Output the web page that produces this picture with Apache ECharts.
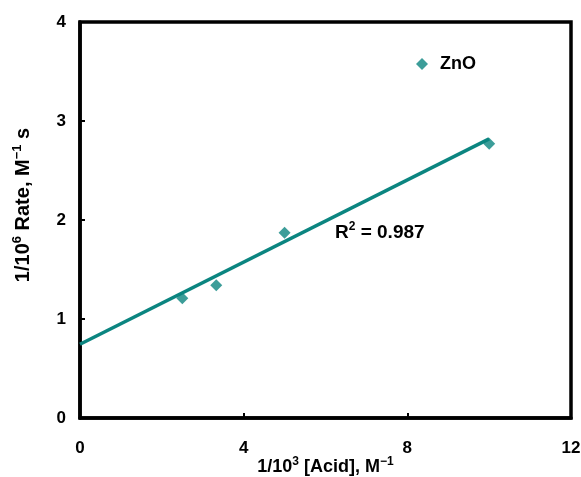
<!DOCTYPE html>
<html>
<head>
<meta charset="utf-8">
<script src="https://cdn.jsdelivr.net/npm/echarts@6/dist/echarts.min.js"></script>
<style>html,body{margin:0;padding:0;background:#fff;}#c{width:581px;height:477px;}</style>
</head>
<body>
<div id="c"></div>
<script>
const seriesName = 'ZnO';
const acidInv = [2.5, 3.33, 5, 10];
const rateInv = [1.21, 1.34, 1.87, 2.77];
const trendX = [0, 10];
const trendY = [0.745, 2.82];
const xTicks = [0, 4, 8, 12];
const yTicks = [0, 1, 2, 3, 4];
const r2Text = '0.987';

const teal = '#0b8580';
const font = 'Arial, "Liberation Sans", sans-serif';

const chart = echarts.init(document.getElementById('c'), null, {renderer: 'canvas'});
const nStyle = {fontSize: 18, fontWeight: 'bold', fontFamily: font, color: '#000', lineHeight: 22};
const supStyle = {fontSize: 12, fontWeight: 'bold', fontFamily: font, color: '#000', verticalAlign: 'top', lineHeight: 12};
const nStyleY = {fontSize: 20, fontWeight: 'bold', fontFamily: font, color: '#000', lineHeight: 24};
const supStyleY = {fontSize: 13, fontWeight: 'bold', fontFamily: font, color: '#000', verticalAlign: 'top', lineHeight: 13};
chart.setOption({
  animation: false,
  backgroundColor: '#fff',
  grid: {left: 80, right: 10, top: 22, bottom: 59, show: true, borderColor: '#000', borderWidth: 3.5, outerBoundsMode: 'none'},
  legend: {
    data: [seriesName], left: 411, top: 50, icon: 'diamond', itemWidth: 12, itemHeight: 12,
    textStyle: {fontSize: 18, fontWeight: 'bold', fontFamily: font, color: '#000', padding: [0, 0, 0, 7]}
  },
  xAxis: {
    type: 'value', min: xTicks[0], max: xTicks[xTicks.length - 1], interval: 4,
    axisLine: {lineStyle: {color: '#000', width: 3.5}},
    axisTick: {inside: true, length: 5, lineStyle: {color: '#000', width: 2}},
    axisLabel: {fontSize: 17, fontWeight: 'bold', fontFamily: font, color: '#000', margin: 22},
    splitLine: {show: false},
    name: '{n|1/10}{s|3}{n| [Acid], M}{s|−1}',
    nameLocation: 'middle', nameGap: 38, nameMoveOverlap: false,
    nameTextStyle: {rich: {n: nStyle, s: supStyle}}
  },
  yAxis: {
    type: 'value', min: yTicks[0], max: yTicks[yTicks.length - 1], interval: 1,
    axisLine: {lineStyle: {color: '#000', width: 3.5}},
    axisTick: {inside: true, length: 5, lineStyle: {color: '#000', width: 2}},
    axisLabel: {fontSize: 17, fontWeight: 'bold', fontFamily: font, color: '#000', margin: 14},
    splitLine: {show: false},
    name: '{n|1/10}{s|6}{n| Rate, M}{s|−1}{n| s}',
    nameLocation: 'middle', nameGap: 45, nameRotate: 90, nameMoveOverlap: false,
    nameTextStyle: {padding: [0, 0, 0, 30], rich: {n: nStyleY, s: supStyleY}}
  },
  series: [
    {
      name: 'trend', type: 'line', data: trendX.map((x, i) => [x, trendY[i]]),
      showSymbol: false, symbol: 'none', lineStyle: {color: teal, width: 3.5}, z: 2, silent: true
    },
    {
      name: seriesName, type: 'scatter', data: acidInv.map((x, i) => [x, rateInv[i]]),
      symbol: 'diamond', symbolSize: 12, itemStyle: {color: teal}, z: 3
    }
  ],
  graphic: [{
    type: 'text', left: 335, top: 221,
    style: {
      text: '{n|R}{s|2}{n| = ' + r2Text + '}',
      rich: {
        n: {fontSize: 19, fontWeight: 'bold', fontFamily: font, fill: '#000', lineHeight: 24},
        s: {fontSize: 12, fontWeight: 'bold', fontFamily: font, fill: '#000', verticalAlign: 'top', lineHeight: 12}
      }
    }
  }]
});
</script>
</body>
</html>
